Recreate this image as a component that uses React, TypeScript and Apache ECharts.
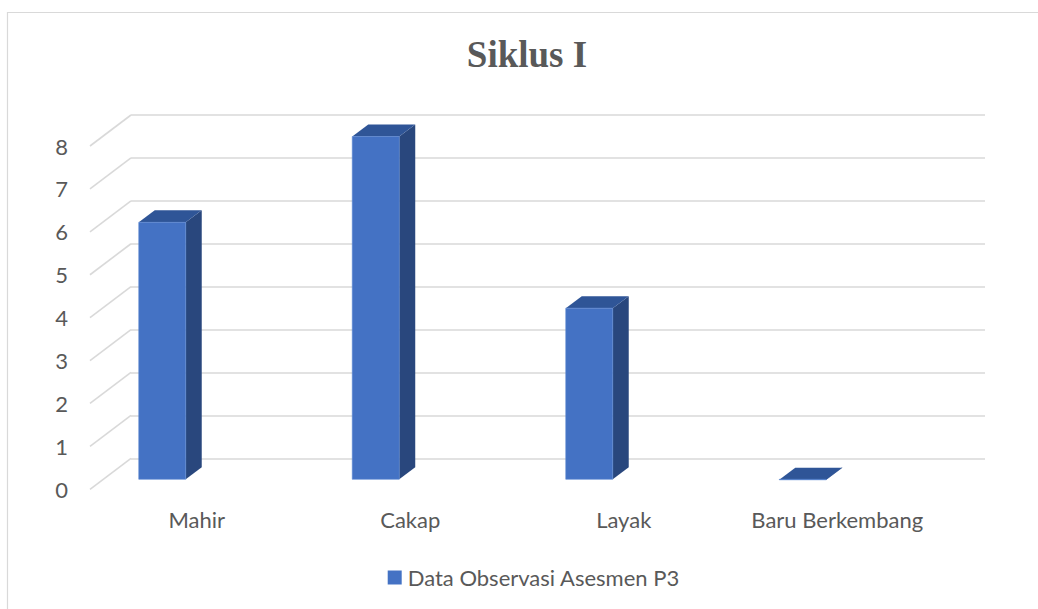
import React, { useEffect, useRef } from "react";
import * as echarts from "echarts";

const categories = ["Mahir", "Cakap", "Layak", "Baru Berkembang"];
const values = [6, 8, 4, 0];
const yTicks = [0, 1, 2, 3, 4, 5, 6, 7, 8];
const seriesName = "Data Observasi Asesmen P3";
const titleText = "Siklus I";

const FONT = "Lato";
const TEXT_COLOR = "#595959";
const GRID_COLOR = "#d9d9d9";
const FRONT = "#4472C4";
const SIDE = "#29477D";
const TOP = "#2F5597";
// perspective offsets (front of floor relative to back wall)
const DX = -41;
const DY = 31;

export default function App() {
  const ref = useRef<HTMLDivElement>(null);
  useEffect(() => {
    if (!ref.current) return;
    const chart = echarts.init(ref.current, null, { renderer: "svg" });
    const gridBack = { left: 131, top: 115, width: 854, height: 343.3 };
    const gridFront = { left: 131 + DX, top: 115 + DY, width: 854, height: 343.3 };
    chart.setOption({
      animation: false,
      backgroundColor: "#ffffff",
      graphic: [
        {
          type: "rect",
          shape: { x: 7.5, y: 12.5, width: 1200, height: 800 },
          style: { fill: "none", stroke: GRID_COLOR, lineWidth: 1.2 },
          silent: true,
          z: -10,
        },
        {
          type: "text",
          x: 527,
          y: 54,
          style: {
            text: titleText,
            font: "bold 37px 'Liberation Serif'",
            fill: TEXT_COLOR,
            align: "center",
            verticalAlign: "middle",
          },
        },
      ],
      legend: {
        left: 387.7,
        top: 566.5,
        padding: 0,
        itemWidth: 14,
        itemHeight: 14,
        itemGap: 10,
        textStyle: { fontFamily: FONT, fontSize: 22, color: TEXT_COLOR, padding: [0, 0, 0, 1] },
        data: [{ name: seriesName, icon: "rect", itemStyle: { color: FRONT } }],
      },
      grid: [
        { ...gridBack, containLabel: false },
        { ...gridFront, containLabel: false },
      ],
      xAxis: [
        {
          gridIndex: 0,
          type: "category",
          data: categories,
          axisLine: { show: false },
          axisTick: { show: false },
          axisLabel: { show: false },
          splitLine: { show: false },
        },
        {
          gridIndex: 1,
          type: "category",
          data: categories,
          axisLine: { show: false },
          axisTick: { show: false },
          axisLabel: {
            show: true,
            interval: 0,
            hideOverlap: false,
            margin: 19,
            fontFamily: FONT,
            fontSize: 22,
            color: TEXT_COLOR,
          },
          splitLine: { show: false },
        },
      ],
      yAxis: [
        {
          gridIndex: 0,
          type: "value",
          min: 0,
          max: 8,
          interval: 1,
          axisLine: { show: false },
          axisTick: { show: false },
          axisLabel: { show: false },
          splitLine: { show: true, lineStyle: { color: GRID_COLOR, width: 1.6 } },
        },
        {
          gridIndex: 1,
          type: "value",
          min: 0,
          max: 8,
          interval: 1,
          axisLine: { show: false },
          axisTick: { show: false },
          axisLabel: {
            show: true,
            margin: 22,
            fontFamily: FONT,
            fontSize: 22,
            color: TEXT_COLOR,
          },
          splitLine: { show: false },
        },
      ],
      series: [
        {
          type: "custom",
          name: "diagonals",
          xAxisIndex: 0,
          yAxisIndex: 0,
          silent: true,
          z: 1,
          data: yTicks.map((v) => [0, v]),
          renderItem: (params: any, api: any) => {
            const p = api.coord([0, api.value(1)]);
            const x0 = params.coordSys.x;
            return {
              type: "line",
              shape: { x1: x0, y1: p[1], x2: x0 + DX, y2: p[1] + DY },
              style: { stroke: GRID_COLOR, lineWidth: 1.6 },
            };
          },
        },
        {
          type: "custom",
          name: seriesName,
          xAxisIndex: 0,
          yAxisIndex: 0,
          z: 5,
          itemStyle: { color: FRONT },
          data: values.map((v, i) => [i, v]),
          renderItem: (params: any, api: any) => {
            const i = api.value(0);
            const v = api.value(1);
            const top = api.coord([i, v]);
            const base = api.coord([i, 0]);
            const bw = api.size([1, 0])[0];
            const x0 = top[0] - 0.4637 * bw;
            const x1 = top[0] - 0.2436 * bw;
            const yT = top[1] + 21.5;
            const yB = base[1] + 21;
            const dx = 16;
            const dy = -12;
            return {
              type: "group",
              children: [
                {
                  type: "polygon",
                  shape: {
                    points: [
                      [x1, yT],
                      [x1 + dx, yT + dy],
                      [x1 + dx, yB + dy],
                      [x1, yB],
                    ],
                  },
                  style: { fill: SIDE },
                },
                {
                  type: "polygon",
                  shape: {
                    points: [
                      [x0, yT],
                      [x0 + dx, yT + dy],
                      [x1 + dx, yT + dy],
                      [x1, yT],
                    ],
                  },
                  style: { fill: TOP },
                },
                {
                  type: "rect",
                  shape: { x: x0, y: yT, width: x1 - x0, height: yB - yT },
                  style: { fill: FRONT, stroke: "#5A86D1", lineWidth: 0.6 },
                },
              ],
            };
          },
        },
      ],
    });
    return () => chart.dispose();
  }, []);
  return (
    <div
      ref={ref}
      style={{ position: "absolute", left: 0, top: 0, width: 1038, height: 609 }}
    />
  );
}
